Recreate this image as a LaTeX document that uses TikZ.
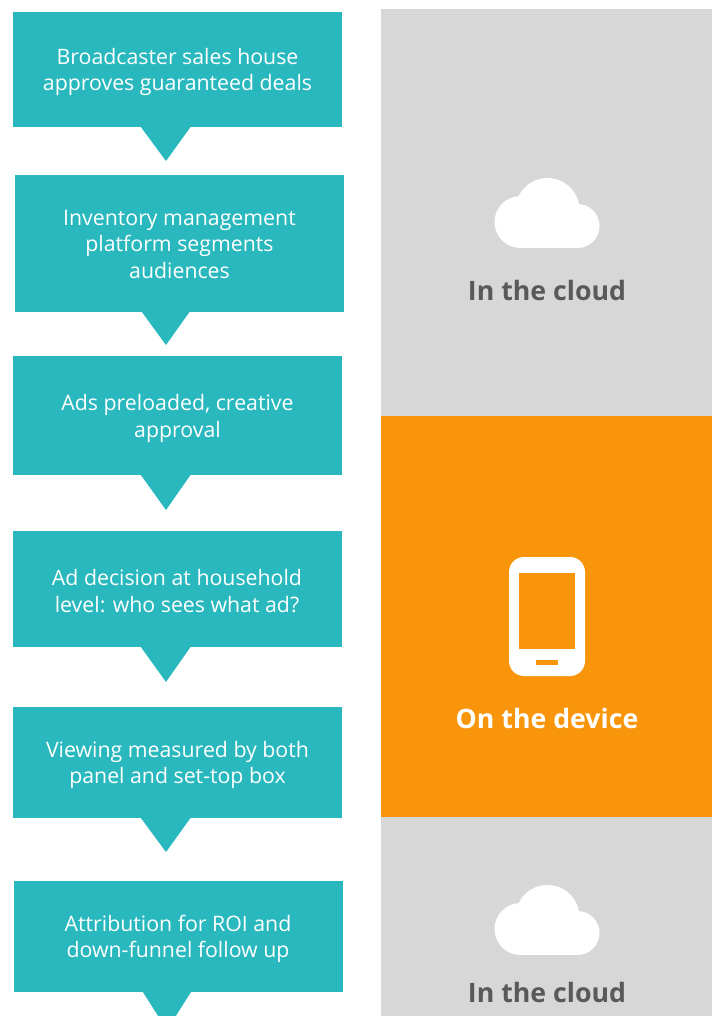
\documentclass[tikz,border=0pt]{standalone}
\usepackage{fontspec}
\setmainfont{Open Sans}
\definecolor{teal1}{HTML}{29B8BE}
\definecolor{gray1}{HTML}{D7D7D7}
\definecolor{orange1}{HTML}{F9950B}
\definecolor{label1}{HTML}{595959}
\tikzset{
  stepbox/.style={fill=teal1,inner sep=0pt,minimum width=329pt},
  steptext/.style={text=white,inner sep=0pt,align=center,font=\fontsize{21.3}{26.6}\selectfont},
  tiptri/.style={fill=teal1},
  panel/.style={inner sep=0pt,minimum width=331pt},
  paneltext/.style={inner sep=0pt,font=\fontsize{26.7}{32}\selectfont\bfseries},
  cloudicon/.pic={
    \fill[white] (-26.5,-26) circle[radius=26];
    \fill[white] (0.5,-38) circle[radius=32];
    \fill[white] (30.5,-22) circle[radius=22];
    \fill[white] (-26.5,-26) rectangle (30.5,0);
  }
}
\begin{document}
\begin{tikzpicture}[x=1pt,y=-1pt]
\useasboundingbox (0,0) rectangle (720,1016);
\clip (0,0) rectangle (720,1016);
% right panels
\node[panel,fill=gray1,minimum height=407pt] (p1) at (546.5,212.5) {};
\node[panel,fill=orange1,minimum height=401pt] (p2) at (546.5,616.5) {};
\node[panel,fill=gray1,minimum height=199pt] (p3) at (546.5,916.5) {};
% step boxes
\node[stepbox,minimum height=115pt] (b1) at (177.5,69.5) {};
\node[stepbox,minimum height=137pt] (b2) at (179.5,243.5) {};
\node[stepbox,minimum height=119pt] (b3) at (177.5,415.5) {};
\node[stepbox,minimum height=116pt] (b4) at (177.5,589) {};
\node[stepbox,minimum height=111pt] (b5) at (177.5,762.5) {};
\node[stepbox,minimum height=111pt] (b6) at (178.5,936.5) {};
\node[steptext] (s1) at (177.5,72) {Broadcaster sales house\\approves guaranteed deals};
\node[steptext] (s2) at (179.5,244.5) {Inventory management\\platform segments\\audiences};
\node[steptext] (s3) at (177.5,418.5) {Ads preloaded, creative\\approval};
\node[steptext] (s4) at (177,591) {Ad decision at household\\level: who sees what ad?};
\node[steptext] (s5) at (177.5,765) {Viewing measured by both\\panel and set-top box};
\node[steptext] (s6) at (178,939) {Attribution for ROI and\\down-funnel follow up};
% tips
\coordinate (t1) at (166,161);
\coordinate (t2) at (166,345);
\coordinate (t3) at (166,510);
\coordinate (t4) at (166,682);
\coordinate (t5) at (166,852);
\coordinate (t6) at (167,1030);
\fill[tiptri] (t1 |- b1.south) ++(-25,0) -- (t1) -- ++(24.5,-34) -- cycle;
\fill[tiptri] (t2 |- b2.south) ++(-24,0) -- (t2) -- ++(23.5,-33) -- cycle;
\fill[tiptri] (t3 |- b3.south) ++(-25,0) -- (t3) -- ++(24.5,-35) -- cycle;
\fill[tiptri] (t4 |- b4.south) ++(-25,0) -- (t4) -- ++(24.5,-35) -- cycle;
\fill[tiptri] (t5 |- b5.south) ++(-25,0) -- (t5) -- ++(24.5,-34) -- cycle;
\fill[tiptri] (t6 |- b6.south) ++(-24,0) -- (t6) -- ++(24,-38) -- cycle;
% icons
\pic at (547,248) {cloudicon};
\pic at (547,955) {cloudicon};
\fill[white,rounded corners=15pt] (509,557) rectangle (585,676);
\fill[orange1] (518.7,573.3) rectangle (575.3,649);
\fill[orange1] (536,659.7) rectangle (558,665);
% labels
\node[paneltext,text=label1] (l1) at (547,290) {In the cloud};
\node[paneltext,text=white] (l2) at (547,718) {On the device};
\node[paneltext,text=label1] (l3) at (547,992) {In the cloud};
\end{tikzpicture}
\end{document}
